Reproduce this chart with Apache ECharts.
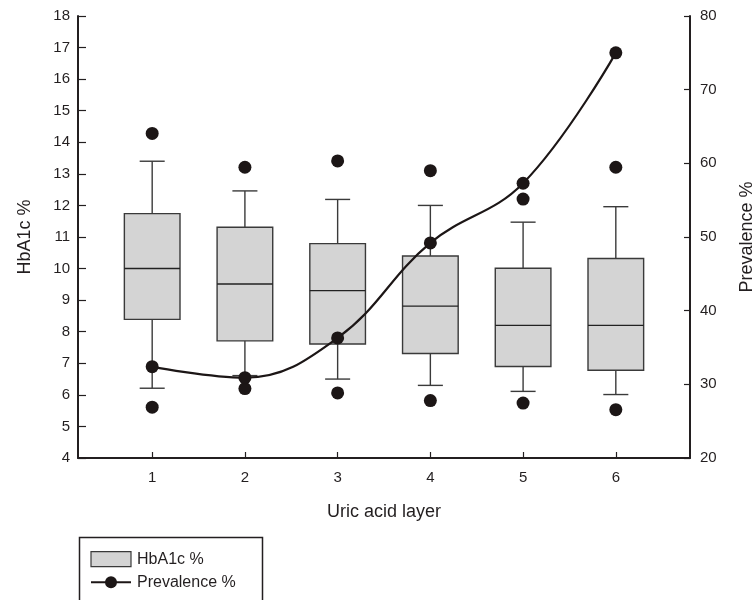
<!DOCTYPE html>
<html><head><meta charset="utf-8">
<script src="https://cdn.jsdelivr.net/npm/echarts@6/dist/echarts.min.js"></script>
<style>html,body{margin:0;padding:0;background:#fff}#c{width:755px;height:600px}</style>
</head><body><div id="c"></div>
<script>
// ---- data ----
const categories = [1, 2, 3, 4, 5, 6];
const whiskerLow  = [6.21, 6.61, 6.50, 6.30, 6.11, 6.01];
const q1          = [8.39, 7.71, 7.61, 7.31, 6.90, 6.78];
const median      = [10.00, 9.51, 9.30, 8.81, 8.20, 8.20];
const q3          = [11.74, 11.31, 10.79, 10.40, 10.01, 10.32];
const whiskerHigh = [13.40, 12.46, 12.19, 12.00, 11.47, 11.96];
const outlierLow  = [5.61, 6.20, 6.06, 5.82, 5.74, 5.53];
const outlierHigh = [14.28, 13.21, 13.41, 13.10, 12.20, 13.21];
const prevalence  = [32.4, 30.9, 36.3, 49.2, 57.3, 75.0];
const xTickValues = [1, 2, 3, 4, 5, 6];

const INK = '#231f20';
const FONT = '"Liberation Sans", Arial, sans-serif';

const boxData = categories.map((c, i) => [c, whiskerLow[i], q1[i], median[i], q3[i], whiskerHigh[i]]);
const outlierData = [];
categories.forEach((c, i) => { outlierData.push([c, outlierLow[i]]); outlierData.push([c, outlierHigh[i]]); });
const lineData = categories.map((c, i) => [c, prevalence[i]]);

const chart = echarts.init(document.getElementById('c'), null, {renderer: 'canvas'});
chart.setOption({
  animation: false,
  backgroundColor: '#fff',
  textStyle: {fontFamily: FONT, color: INK},
  grid: {left: 78, right: 65, top: 16, bottom: 142, containLabel: false, outerBoundsMode: 'none'},
  xAxis: {
    type: 'value', min: 0.2, max: 6.8,
    name: 'Uric acid layer', nameLocation: 'middle', nameGap: 45,
    nameTextStyle: {fontSize: 18, color: INK, fontFamily: FONT},
    axisLine: {show: true, lineStyle: {color: INK, width: 2}},
    axisTick: {show: true, inside: true, length: 6, customValues: xTickValues, lineStyle: {color: INK, width: 1.2}},
    axisLabel: {customValues: xTickValues, fontSize: 15, color: INK, margin: 12, fontFamily: FONT},
    splitLine: {show: false}
  },
  yAxis: [{
    type: 'value', min: 4, max: 18, interval: 1, position: 'left',
    name: 'HbA1c %', nameLocation: 'middle', nameGap: 44, nameRotate: 90,
    nameTextStyle: {fontSize: 18, color: INK, fontFamily: FONT},
    axisLine: {show: true, lineStyle: {color: INK, width: 2}},
    axisTick: {show: true, inside: true, length: 8, lineStyle: {color: INK, width: 1.2}},
    axisLabel: {fontSize: 15, color: INK, margin: 8, fontFamily: FONT},
    splitLine: {show: false}
  }, {
    type: 'value', min: 20, max: 80, interval: 10, position: 'right',
    name: 'Prevalence %', nameLocation: 'middle', nameGap: 48, nameRotate: 90,
    nameTextStyle: {fontSize: 18, color: INK, fontFamily: FONT},
    axisLine: {show: true, lineStyle: {color: INK, width: 2}},
    axisTick: {show: true, inside: true, length: 6, lineStyle: {color: INK, width: 1.2}},
    axisLabel: {fontSize: 15, color: INK, margin: 10, fontFamily: FONT},
    splitLine: {show: false}
  }],
  legend: {
    orient: 'vertical', left: 90, top: 551, padding: 0,
    itemWidth: 40, itemHeight: 15, itemGap: 7,
    textStyle: {fontSize: 16, color: INK, fontFamily: FONT, padding: [0, 0, 0, 1]},
    data: [
      {name: 'HbA1c %', icon: 'rect', itemStyle: {color: '#d4d4d4', borderColor: '#3a3a3a', borderWidth: 1.2}},
      {name: 'Prevalence %'}
    ]
  },
  graphic: [{
    type: 'rect', left: 77, top: 535, z: 0,
    shape: {width: 183, height: 80},
    style: {fill: 'none', stroke: INK, lineWidth: 1.5}
  }],
  series: [{
    name: 'HbA1c %', type: 'custom',
    xAxisIndex: 0, yAxisIndex: 0,
    encode: {x: 0, y: [1, 2, 3, 4, 5]},
    itemStyle: {color: '#d4d4d4', borderColor: '#3a3a3a'},
    data: boxData,
    renderItem: function (params, api) {
      const x = api.value(0);
      const lo = api.coord([x, api.value(1)]);
      const b1 = api.coord([x, api.value(2)]);
      const md = api.coord([x, api.value(3)]);
      const b3 = api.coord([x, api.value(4)]);
      const hi = api.coord([x, api.value(5)]);
      const hb = api.size([0.6, 0])[0] / 2;
      const hc = api.size([0.27, 0])[0] / 2;
      const ls = {stroke: '#3a3a3a', lineWidth: 1.4, fill: null};
      return {type: 'group', children: [
        {type: 'line', shape: {x1: lo[0], y1: lo[1], x2: lo[0], y2: b1[1]}, style: ls},
        {type: 'line', shape: {x1: hi[0], y1: hi[1], x2: hi[0], y2: b3[1]}, style: ls},
        {type: 'line', shape: {x1: lo[0] - hc, y1: lo[1], x2: lo[0] + hc, y2: lo[1]}, style: ls},
        {type: 'line', shape: {x1: hi[0] - hc, y1: hi[1], x2: hi[0] + hc, y2: hi[1]}, style: ls},
        {type: 'rect', shape: {x: b1[0] - hb, y: b3[1], width: 2 * hb, height: b1[1] - b3[1]},
         style: {fill: '#d4d4d4', stroke: '#3a3a3a', lineWidth: 1.4}},
        {type: 'line', shape: {x1: md[0] - hb, y1: md[1], x2: md[0] + hb, y2: md[1]}, style: {stroke: '#222', lineWidth: 1.4}}
      ]};
    },
    z: 2
  }, {
    name: 'outliers', type: 'scatter',
    xAxisIndex: 0, yAxisIndex: 0,
    symbol: 'circle', symbolSize: 13,
    itemStyle: {color: '#1c1616', opacity: 1},
    data: outlierData, z: 3
  }, {
    name: 'Prevalence %', type: 'line',
    xAxisIndex: 0, yAxisIndex: 1,
    smooth: 0.4,
    symbol: 'circle', symbolSize: 13, showSymbol: true,
    lineStyle: {color: '#1c1616', width: 2.2},
    itemStyle: {color: '#1c1616', borderWidth: 0},
    data: lineData, z: 4
  }]
});
</script></body></html>
